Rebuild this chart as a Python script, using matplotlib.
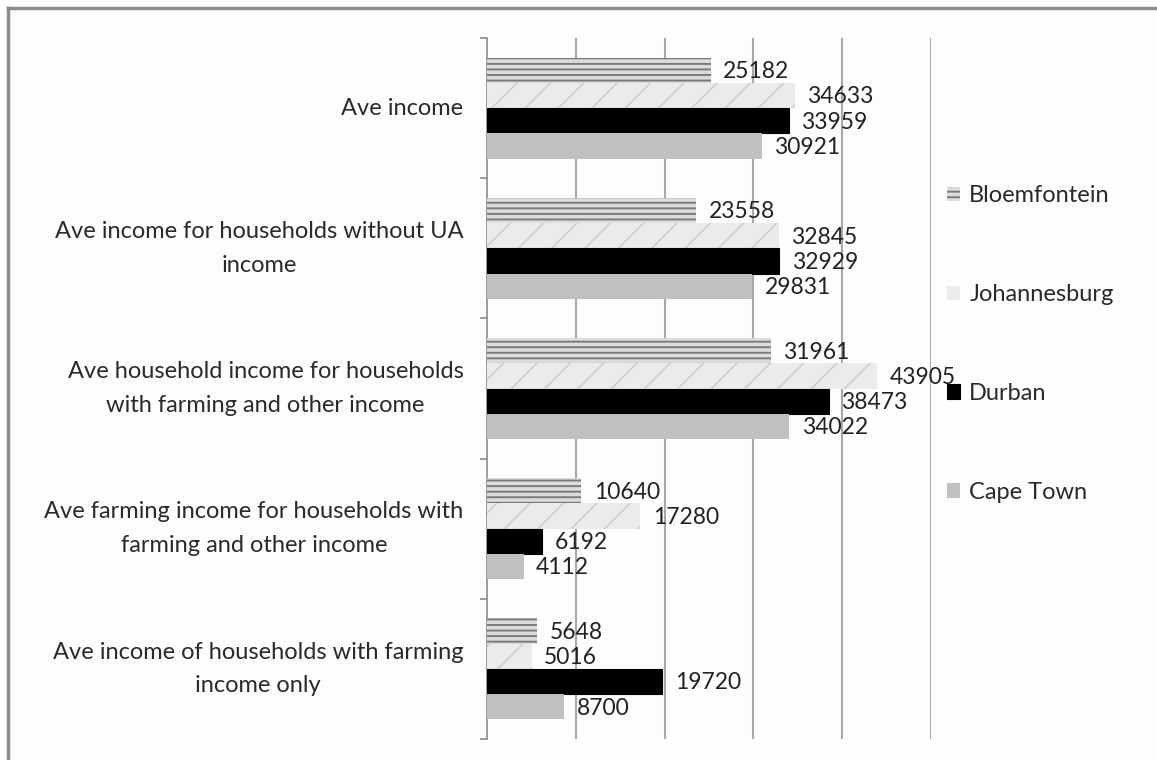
import matplotlib
matplotlib.use("Agg")
import matplotlib.pyplot as plt
from matplotlib.lines import Line2D
import numpy as np

# Household income data (Rand) for four South African cities
categories = [
    "Ave income",
    "Ave income for households without UA\nincome",
    "Ave household income for households\nwith farming and other income",
    "Ave farming income for households with\nfarming and other income",
    "Ave income of households with farming\nincome only",
]
cities = ["Bloemfontein", "Johannesburg", "Durban", "Cape Town"]
bloemfontein = [25182, 23558, 31961, 10640, 5648]
johannesburg = [34633, 32845, 43905, 17280, 5016]
durban = [33959, 32929, 38473, 6192, 19720]
cape_town = [30921, 29831, 34022, 4112, 8700]

series = [bloemfontein, johannesburg, durban, cape_town]
styles = [
    dict(facecolor="#dcdcdc", edgecolor="#7a7a7a", hatch="---", linewidth=0),
    dict(facecolor="#ebebed", edgecolor="#d2d2d4", hatch="/", linewidth=0),
    dict(facecolor="#000000", edgecolor="#000000", linewidth=0.8),
    dict(facecolor="#c0c0c0", edgecolor="#c0c0c0", linewidth=0),
]

plt.rcParams["font.family"] = ["Lato", "DejaVu Sans"]
plt.rcParams["hatch.linewidth"] = 1.4

W, H = 1157, 760
fig = plt.figure(figsize=(W / 100, H / 100), dpi=100)
fig.patch.set_facecolor("#fdfdfd")

ax = fig.add_axes([487 / W, 1 - 739 / H, (931 - 487) / W, (739 - 38) / H])
ax.set_facecolor("none")

n_cat = len(categories)
y = np.arange(n_cat)
bar_h = 0.18
offsets = (np.arange(len(series)) - 1.5) * bar_h

handles = []
for vals, off, st, name in zip(series, offsets, styles, cities):
    bars = ax.barh(y + off, vals, height=bar_h, label=name, zorder=3, **st)
    handles.append(bars)
    for yy, v in zip(y + off, vals):
        ax.annotate(f"{v}", xy=(v, yy), xytext=(9, -1), textcoords="offset points",
                    ha="left", va="center", fontsize=16.5, color="#222222",
                    zorder=5, annotation_clip=False)

ax.set_xlim(0, 50000)
ax.set_ylim(n_cat - 0.5, -0.5)
ax.set_xticks(np.arange(10000, 50001, 10000))
ax.xaxis.grid(True, color="#a8a8a8", linewidth=1.5, zorder=0)
ax.tick_params(axis="x", length=0, labelbottom=False)

ax.set_yticks(y)
ax.set_yticklabels(categories, fontsize=17, color="#2a2a2a",
                   multialignment="center", linespacing=1.75, va="center")
ax.set_yticks(np.arange(n_cat + 1) - 0.5, minor=True)
ax.tick_params(axis="y", which="major", length=0, pad=17)
ax.tick_params(axis="y", which="minor", length=5, width=1.2, color="#8a8a8a")

for side in ["top", "right", "bottom"]:
    ax.spines[side].set_visible(False)
ax.spines["left"].set_color("#8a8a8a")
ax.spines["left"].set_linewidth(1.2)

leg = fig.legend(handles=handles, labels=cities, loc="center left",
                 bbox_to_anchor=(935 / W, 1 - 344 / H), frameon=False,
                 fontsize=17, labelspacing=3.3, handlelength=0.55,
                 handleheight=0.55, handletextpad=0.4, borderpad=0,
                 labelcolor="#2a2a2a")

# Outer frame along the top and left edges
fig.add_artist(Line2D([8 / W, 1], [1 - 8 / H, 1 - 8 / H], transform=fig.transFigure,
                      color="#8c8c8c", linewidth=2.5))
fig.add_artist(Line2D([8 / W, 8 / W], [0, 1 - 8 / H], transform=fig.transFigure,
                      color="#8c8c8c", linewidth=2.5))

fig.savefig("out.png", dpi=100, facecolor=fig.get_facecolor())
